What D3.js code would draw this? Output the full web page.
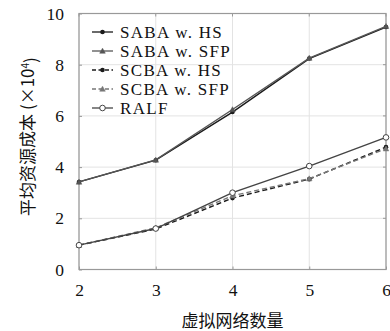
<!DOCTYPE html>
<html>
<head>
<meta charset="utf-8">
<script src="https://cdn.jsdelivr.net/npm/d3@7/dist/d3.min.js"></script>
<style>
  html, body { margin: 0; padding: 0; background: #fff; }
  svg { display: block; }
</style>
</head>
<body>
<svg id="chart" width="390" height="331"></svg>
<script>
// Number of virtual networks
const networks = [2, 3, 4, 5, 6];
const yTicks = [0, 2, 4, 6, 8, 10];

// Average resource cost (×10^4)
const sabaHS  = [3.42, 4.27, 6.15, 8.24, 9.47];
const sabaSFP = [3.42, 4.28, 6.25, 8.26, 9.50];
const scbaHS  = [0.95, 1.58, 2.79, 3.53, 4.78];
const scbaSFP = [0.95, 1.63, 2.88, 3.55, 4.72];
const ralf    = [0.95, 1.60, 3.00, 4.04, 5.16];

const seriesNames = ["SABA w. HS", "SABA w. SFP", "SCBA w. HS", "SCBA w. SFP", "RALF"];

const series = [
  { name: seriesNames[0], values: sabaHS,  dash: null,  marker: "star",     color: "#1a1a1a" },
  { name: seriesNames[1], values: sabaSFP, dash: null,  marker: "triangle", color: "#555" },
  { name: seriesNames[2], values: scbaHS,  dash: "5,3", marker: "star",     color: "#1a1a1a" },
  { name: seriesNames[3], values: scbaSFP, dash: "5,3", marker: "triangle", color: "#777" },
  { name: seriesNames[4], values: ralf,    dash: null,  marker: "circle",   color: "#444" }
];

const serif = '"Liberation Serif", "DejaVu Serif", serif';
const cjk = '"Noto Sans CJK SC", sans-serif';

const svg = d3.select("#chart");
const L = 79, R = 386, T = 13.5, B = 269.5;

const x = d3.scaleLinear().domain([2, 6]).range([L, R]);
const y = d3.scaleLinear().domain([0, 10]).range([B, T]);

// grid
const grid = svg.append("g").attr("stroke", "#e3e3e3").attr("stroke-width", 1);
grid.selectAll("line.v").data(networks).join("line")
  .attr("x1", d => x(d)).attr("x2", d => x(d)).attr("y1", T).attr("y2", B);
grid.selectAll("line.h").data(yTicks).join("line")
  .attr("x1", L).attr("x2", R).attr("y1", d => y(d)).attr("y2", d => y(d));

// axes
const xAxis = svg.append("g").attr("transform", `translate(0,${B})`)
  .call(d3.axisBottom(x).tickValues(networks).tickFormat(d3.format("d")).tickSizeInner(-3).tickSizeOuter(0).tickPadding(14));
const yAxis = svg.append("g").attr("transform", `translate(${L},0)`)
  .call(d3.axisLeft(y).tickValues(yTicks).tickFormat(d3.format("d")).tickSizeInner(-3).tickSizeOuter(0).tickPadding(15));
[xAxis, yAxis].forEach(a => {
  a.select(".domain").remove();
  a.selectAll(".tick line").attr("stroke", "#999");
  a.selectAll(".tick text").attr("fill", "#111").style("font-size", "17.5px").style("font-family", serif);
});
// right/top ticks
svg.append("g").selectAll("line").data(yTicks).join("line")
  .attr("x1", R).attr("x2", R - 3).attr("y1", d => y(d)).attr("y2", d => y(d)).attr("stroke", "#999");
svg.append("g").selectAll("line").data(networks).join("line")
  .attr("x1", d => x(d)).attr("x2", d => x(d)).attr("y1", T).attr("y2", T + 3).attr("stroke", "#999");

// frame
svg.append("rect").attr("x", L).attr("y", T).attr("width", R - L).attr("height", B - T)
  .attr("fill", "none").attr("stroke", "#999").attr("stroke-width", 1.2);

// markers
function drawMarker(g, type, cx, cy, color) {
  if (type === "star") {
    g.append("circle").attr("cx", cx).attr("cy", cy).attr("r", 2.3).attr("fill", color);
  } else if (type === "triangle") {
    const s = 2.8;
    g.append("path").attr("d", `M${cx},${cy - s}L${cx + s},${cy + s * 0.8}L${cx - s},${cy + s * 0.8}Z`)
      .attr("fill", color).attr("stroke", color).attr("stroke-width", 0.5);
  } else {
    g.append("circle").attr("cx", cx).attr("cy", cy).attr("r", 2.8).attr("fill", "#fff")
      .attr("stroke", color).attr("stroke-width", 1);
  }
}

const line = d3.line().x((d, i) => x(networks[i])).y(d => y(d));
const plot = svg.append("g");
series.forEach(s => {
  plot.append("path").datum(s.values).attr("d", line)
    .attr("fill", "none").attr("stroke", s.color).attr("stroke-width", 1.4)
    .attr("stroke-dasharray", s.dash);
  const mg = plot.append("g");
  s.values.forEach((v, i) => drawMarker(mg, s.marker, x(networks[i]), y(v), s.color));
});

// legend
const leg = svg.append("g");
series.forEach((s, i) => {
  const ly = 32 + i * 19;
  leg.append("line").attr("x1", 92).attr("x2", 113).attr("y1", ly).attr("y2", ly)
    .attr("stroke", s.color).attr("stroke-width", 1.3).attr("stroke-dasharray", s.dash ? "4,2.5" : null);
  drawMarker(leg, s.marker, 102.5, ly, s.color);
  leg.append("text").attr("x", 120).attr("y", ly + 5.5).text(s.name)
    .style("font-family", serif).style("font-size", "17px").style("letter-spacing", "1.3px")
    .attr("fill", "#111");
});

// axis titles
svg.append("text").attr("x", (L + R) / 2).attr("y", 327).attr("text-anchor", "middle")
  .style("font-family", cjk).style("font-size", "17px").attr("fill", "#111").text("虚拟网络数量");
const yt = svg.append("text").attr("transform", `translate(28,${(T + B) / 2 - 5}) rotate(-90)`)
  .attr("text-anchor", "middle").attr("dy", "0.35em")
  .style("font-family", cjk).style("font-size", "17px").attr("fill", "#111");
yt.append("tspan").text("平均资源成本 (×10");
yt.append("tspan").attr("dy", "-0.45em").style("font-size", "10px").text("4");
yt.append("tspan").attr("dy", "0.45em").text(")");
</script>
</body>
</html>
